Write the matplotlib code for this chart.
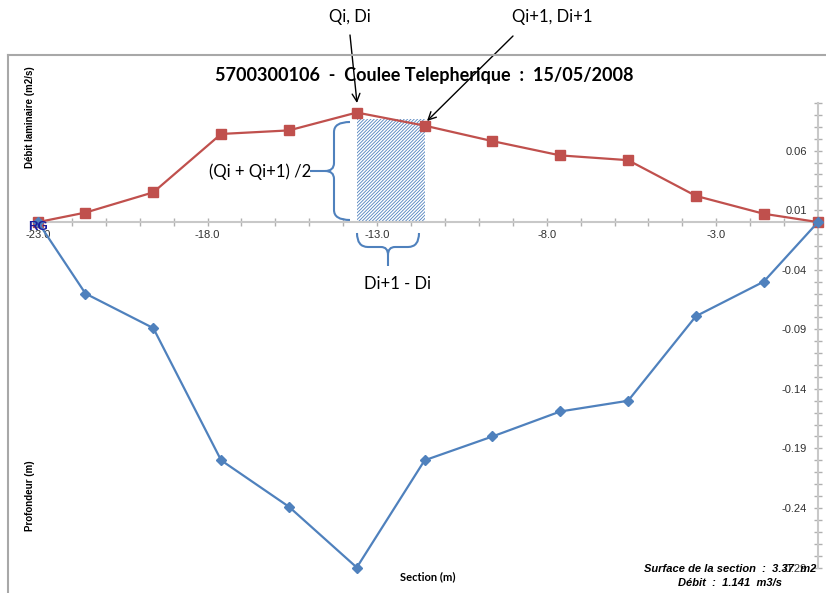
import numpy as np
import matplotlib
matplotlib.use("Agg")
import matplotlib.pyplot as plt
from matplotlib.patches import Rectangle, PathPatch
from matplotlib.path import Path
from matplotlib.lines import Line2D
from matplotlib.transforms import Affine2D
from matplotlib.ticker import FixedLocator

# Data
dist = [-23.0, -21.6, -19.6, -17.6, -15.6, -13.6, -11.6, -9.6, -7.6, -5.6, -3.6, -1.6, 0.0]
debit = [0.0, 0.008, 0.025, 0.074, 0.077, 0.092, 0.081, 0.068, 0.056, 0.052, 0.022, 0.007, 0.0]
profondeur = [0.0, -0.06, -0.089, -0.20, -0.239, -0.29, -0.20, -0.18, -0.159, -0.15, -0.079, -0.05, 0.0]
xlabels = [-23.0, -18.0, -13.0, -8.0, -3.0]
ylabels = [0.06, 0.01, -0.04, -0.09, -0.14, -0.19, -0.24, -0.29]
i_seg = 5  # segment used for the trapezoid illustration

title = "5700300106  -  Coulee Telepherique  :  15/05/2008"
surface = "Surface de la section  :  3.37  m2"
debit_txt = "Débit  :  1.141  m3/s"

RED = "#C0504D"
BLUE = "#4F81BD"
W, H = 826, 593

plt.rcParams["font.family"] = ["Liberation Sans", "DejaVu Sans"]
plt.rcParams["hatch.linewidth"] = 0.6

fig = plt.figure(figsize=(W / 100, H / 100), dpi=100)
ax = fig.add_axes([38 / W, 1 - 567.5 / H, 780 / W, 464.5 / H])
pix = Affine2D().scale(1, -1).translate(0, H)  # top-left pixel coords -> display

ax.set_xlim(-23, 0)
ax.set_ylim(-0.29, 0.10)
for s in ["top", "right"]:
    ax.spines[s].set_visible(False)
ax.spines["bottom"].set_position(("data", 0))
ax.spines["left"].set_position(("data", 0))
for s in ["bottom", "left"]:
    ax.spines[s].set_color("#c8c8c8")
    ax.spines[s].set_linewidth(1.5)

ax.xaxis.set_major_locator(FixedLocator(xlabels))
ax.xaxis.set_minor_locator(FixedLocator(np.arange(-23, 1, 1.0)))
ax.yaxis.set_major_locator(FixedLocator(ylabels))
ax.yaxis.set_minor_locator(FixedLocator(np.round(np.arange(-0.29, 0.105, 0.01), 2)))
ax.xaxis.set_major_formatter(lambda v, p: f"{v:.1f}")
ax.yaxis.set_major_formatter(lambda v, p: f"{v:.2f}")
ax.tick_params(which="both", direction="inout", length=6, color="#b0b0b0", width=1)
ax.tick_params(labelsize=8, labelcolor="#303030")
ax.tick_params(axis="y", pad=5)
ax.tick_params(axis="x", pad=3)

# hatched strip between point i and i+1
xi, xj = dist[i_seg], dist[i_seg + 1]
hq = (debit[i_seg] + debit[i_seg + 1]) / 2
ax.add_patch(Rectangle((xi, 0), xj - xi, hq, facecolor="white", edgecolor=BLUE,
                       hatch="//////////", linewidth=0, zorder=2))

ax.plot(dist, debit, color=RED, lw=1.6, marker="s", ms=7, clip_on=False, zorder=3)
ax.plot(dist, profondeur, color=BLUE, lw=1.6, marker="D", ms=5, clip_on=False, zorder=3)

ax.text(dist[0], 0.001, "RG", color="#1c1c9c", fontsize=9.5, fontweight="bold",
        ha="center", va="top", zorder=5)

fig.text(424 / W, 1 - 75 / H, title, ha="center", va="center", fontsize=13,
         fontweight="bold", family="Lato")
fig.text(30 / W, 1 - 117 / H, "Débit laminaire (m2/s)", rotation=90, ha="center",
         va="center", fontsize=7, fontweight="bold")
fig.text(30 / W, 1 - 496 / H, "Profondeur (m)", rotation=90, ha="center",
         va="center", fontsize=7, fontweight="bold")
fig.text(428 / W, 1 - 577 / H, "Section (m)", ha="center", va="center", fontsize=8,
         fontweight="bold", family="Lato")
fig.text(730 / W, 1 - 569 / H, surface, ha="center", va="center", fontsize=8,
         fontweight="bold", style="italic")
fig.text(730 / W, 1 - 583 / H, debit_txt, ha="center", va="center", fontsize=8,
         fontweight="bold", style="italic")

# chart border
fig.add_artist(Line2D([8, W], [55, 55], transform=pix, color="#a8a8a8", lw=1.5))
fig.add_artist(Line2D([8, 8], [55, H], transform=pix, color="#a8a8a8", lw=1.5))

# annotations
fig.text(350 / W, 1 - 17 / H, "Qi, Di", ha="center", va="center", fontsize=12, family="Lato")
fig.text(552 / W, 1 - 17 / H, "Qi+1, Di+1", ha="center", va="center", fontsize=12, family="Lato")
fig.text(260 / W, 1 - 172 / H, "(Qi + Qi+1) /2", ha="center", va="center", fontsize=12, family="Lato")
fig.text(398 / W, 1 - 284 / H, "Di+1 - Di", ha="center", va="center", fontsize=12, family="Lato")

arrow = dict(arrowstyle="->", lw=1, color="black", shrinkA=0, shrinkB=0, mutation_scale=14)
ax.annotate("", xy=(357, 103), xycoords=pix, xytext=(350, 35), textcoords=pix, arrowprops=arrow)
ax.annotate("", xy=(427, 121), xycoords=pix, xytext=(513, 36), textcoords=pix, arrowprops=arrow)

M, L, C = Path.MOVETO, Path.LINETO, Path.CURVE3
vbrace = Path([(350, 122), (334, 122), (334, 132), (334, 163), (334, 171), (325, 171),
               (334, 171), (334, 179), (334, 210), (334, 220), (350, 220),
               (310, 171), (325, 171)],
              [M, C, C, L, C, C, C, C, L, C, C, M, L])
hbrace = Path([(357, 233), (357, 247), (368, 247), (381, 247), (388, 247), (388, 255),
               (388, 247), (395, 247), (408, 247), (419, 247), (419, 233),
               (388, 255), (388, 266)],
              [M, C, C, L, C, C, C, C, L, C, C, M, L])
for p in (vbrace, hbrace):
    fig.add_artist(PathPatch(p, transform=pix, facecolor="none", edgecolor=BLUE, lw=1.5))

fig.savefig("out.png", dpi=100)
